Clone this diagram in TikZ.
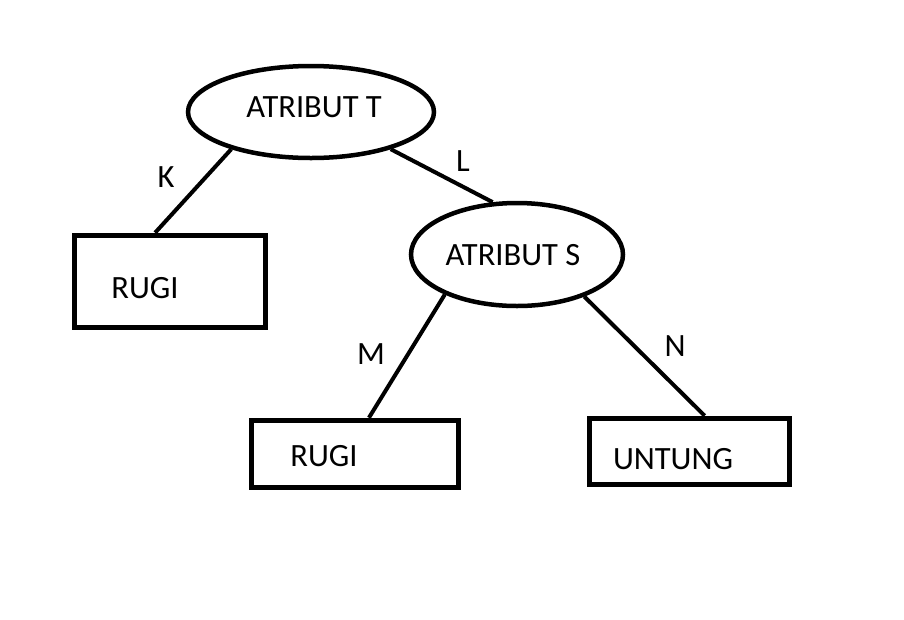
\documentclass[tikz,border=0pt]{standalone}
\usepackage{fontspec}
\setmainfont{Carlito}
\usetikzlibrary{shapes.geometric}

\begin{document}
\begin{tikzpicture}
  [x=1pt,y=-1pt,every node/.style={font=\fontsize{32.5}{38}\selectfont,inner sep=0pt},
   atrib/.style={ellipse,draw,line width=4.5pt},
   kotak/.style={rectangle,draw,line width=5.5pt}]
  \useasboundingbox (0,0) rectangle (904,619);
  \node[atrib,minimum width=246,minimum height=92,
    label={[xshift=3pt,yshift=5pt]center:ATRIBUT T}] (atT) at (311,112) {};
  \node[atrib,minimum width=212,minimum height=103,
    label={[xshift=-4pt,yshift=-0.5pt]center:ATRIBUT S}] (atS) at (517,254.5) {};
  \node[kotak,minimum width=191,minimum height=92,
    label={[xshift=-25pt,yshift=-6.5pt]center:RUGI}] (rugiA) at (170,281.5) {};
  \node[kotak,minimum width=207,minimum height=67,
    label={[xshift=-31pt,yshift=-2pt]center:RUGI}] (rugiB) at (355,454) {};
  \node[kotak,minimum width=200,minimum height=66,
    label={[xshift=-16.5pt,yshift=-7.5pt]center:UNTUNG}] (untung) at (689.5,451.5) {};
  \node (lk) at (166,177) {K};
  \node (ll) at (463,161) {L};
  \node (lm) at (371,354) {M};
  \node (ln) at (675,346) {N};
  \foreach \from/\to in {atT.205/rugiA.107,atT.-25/atS.115,atS.-151/rugiB.69,atS.-32/untung.67}
    \draw[line width=4pt] (\from) -- (\to);
\end{tikzpicture}
\end{document}
